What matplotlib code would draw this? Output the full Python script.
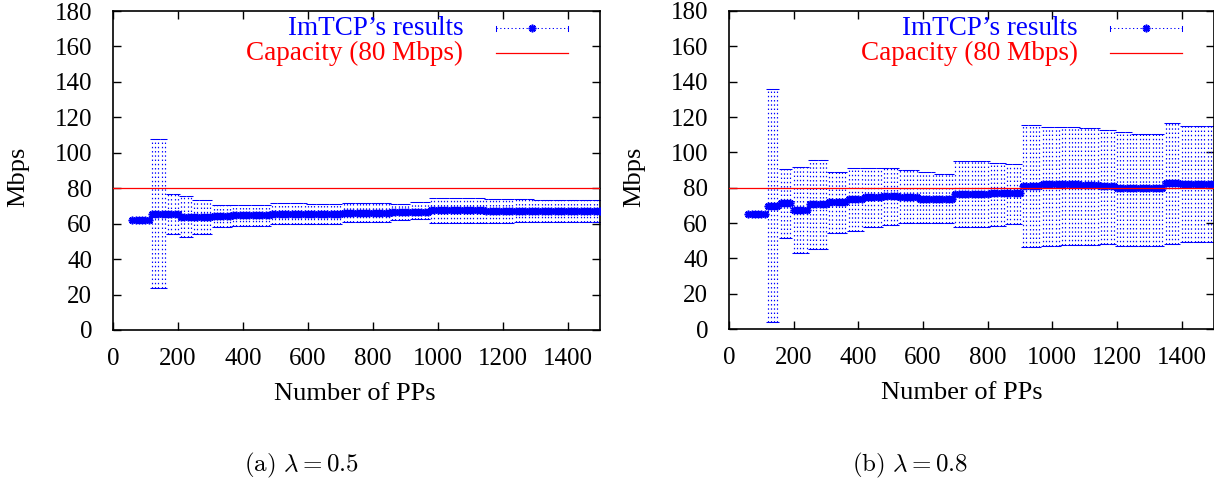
import numpy as np
import matplotlib
matplotlib.use("Agg")
import matplotlib.pyplot as plt

plt.rcParams['font.family'] = ['Liberation Serif', 'DejaVu Serif']
plt.rcParams['mathtext.fontset'] = 'cm'

STEP = 10  # PPs between measurement points

# lambda = 0.5 : segments of equal results (start, end exclusive)
left_start = [60, 120, 170, 210, 250, 310, 370, 490, 600, 710, 860, 920, 980, 1150, 1240, 1300]
left_end = [120, 170, 210, 250, 310, 370, 490, 600, 710, 860, 920, 980, 1150, 1240, 1300, 1510]
left_mean = [62.1, 65.5, 65.5, 63.9, 63.9, 64.2, 64.7, 65.3, 65.6, 66.0, 66.5, 66.8, 67.6, 67.4, 67.3, 67.1]
left_lo = [61.4, 23.5, 54.0, 52.5, 54.3, 58.0, 58.7, 59.6, 60.0, 61.1, 62.1, 62.6, 60.2, 60.2, 61.1, 61.1]
left_hi = [62.8, 107.6, 77.0, 75.8, 73.4, 70.7, 70.3, 71.7, 71.3, 71.5, 70.9, 72.4, 74.7, 73.8, 73.8, 73.1]

# lambda = 0.8
right_start = [60, 120, 160, 200, 250, 310, 370, 420, 480, 530, 590, 640, 700, 810, 860,
               910, 970, 1030, 1090, 1150, 1200, 1250, 1350, 1400]
right_end = [120, 160, 200, 250, 310, 370, 420, 480, 530, 590, 640, 700, 810, 860, 910,
             970, 1030, 1090, 1150, 1200, 1250, 1350, 1400, 1510]
right_mean = [64.9, 69.8, 71.5, 67.3, 70.7, 71.7, 73.6, 74.6, 75.3, 74.9, 73.7, 73.6, 76.3, 76.8, 76.8,
              80.9, 81.9, 82.0, 81.5, 80.9, 79.6, 80.0, 82.5, 82.0]
right_lo = [64.3, 3.8, 51.3, 43.2, 45.1, 54.2, 55.6, 57.5, 58.9, 59.8, 59.8, 59.8, 57.9, 58.3, 59.4,
            46.2, 47.0, 47.5, 47.5, 48.1, 47.0, 47.0, 48.0, 49.4]
right_hi = [65.5, 135.8, 90.5, 91.5, 95.6, 89.0, 91.3, 91.3, 90.9, 90.0, 88.6, 87.7, 94.9, 93.8, 93.2,
            115.4, 114.5, 114.5, 113.6, 112.6, 111.7, 110.4, 116.4, 115.0]

capacity = 80
captions = [r'$\mathrm{(a)}\ \lambda = 0.5$', r'$\mathrm{(b)}\ \lambda = 0.8$']

BLUE = '#0000ff'
RED = '#ff0000'
DOTS = (0, (1.2, 2.4))
STAR = (8, 2, 0)


def expand(start, end, mean, lo, hi):
    xs, ms, ls, hs = [], [], [], []
    for s, e, m, l, h in zip(start, end, mean, lo, hi):
        pts = np.arange(s, e, STEP)
        xs.append(pts)
        ms.append(np.full(len(pts), m))
        ls.append(np.full(len(pts), l))
        hs.append(np.full(len(pts), h))
    return [np.concatenate(a) for a in (xs, ms, ls, hs)]


fig = plt.figure(figsize=(12.14, 4.87), dpi=100)
ax1 = fig.add_axes([113 / 1214, 157 / 487, 487 / 1214, 319 / 487])
ax2 = fig.add_axes([729 / 1214, 158 / 487, 485 / 1214, 318 / 487])

panels = [
    (ax1, left_start, left_end, left_mean, left_lo, left_hi, 0.497),
    (ax2, right_start, right_end, right_mean, right_lo, right_hi, 0.48),
]

for ax, st, en, me, lo, hi, xl in panels:
    x, m, l, h = expand(st, en, me, lo, hi)
    eb = ax.errorbar(x, m, yerr=[m - l, h - m], fmt='none', ecolor=BLUE,
                     elinewidth=0.85, capsize=1.3, capthick=0.75, zorder=2)
    eb[2][0].set_linestyle(DOTS)
    ax.plot(x, m, linestyle='none', marker=STAR, markersize=5.5, mew=1.2,
            color=BLUE, zorder=3)
    ax.axhline(capacity, color=RED, lw=0.9, zorder=4)

    ax.set_xlim(0, 1500)
    ax.set_ylim(0, 180)
    ax.set_xticks(np.arange(0, 1401, 200))
    ax.set_yticks(np.arange(0, 181, 20))
    ax.tick_params(direction='in', top=True, right=True, length=6, width=1,
                   labelsize=18)
    ax.tick_params(axis='y', pad=15)
    ax.tick_params(axis='x', pad=13)
    for sp in ax.spines.values():
        sp.set_linewidth(1.2)

    ax.set_xlabel('Number of PPs', fontsize=19, va='center')
    ax.xaxis.set_label_coords(xl, -0.2)
    ax.set_ylabel('Mbps', fontsize=19, va='center', ha='center')
    ax.yaxis.set_label_coords(-0.195, 0.48)

    # key
    ax.text(0.719, 0.946, "ImTCP\u2019s results", color=BLUE, fontsize=19.5,
            ha='right', va='center', transform=ax.transAxes)
    ax.text(0.719, 0.868, 'Capacity (80 Mbps)', color=RED, fontsize=19.5,
            ha='right', va='center', transform=ax.transAxes)
    ax.plot([0.786, 0.934], [0.946, 0.946], color=BLUE, lw=0.75, ls=DOTS,
            transform=ax.transAxes, clip_on=False)
    for kx in (0.786, 0.934):
        ax.plot([kx, kx], [0.938, 0.954], color=BLUE, lw=0.75,
                transform=ax.transAxes, clip_on=False)
    ax.plot([0.86], [0.946], marker=STAR, markersize=5.5, mew=1.2, color=BLUE,
            transform=ax.transAxes, clip_on=False)
    ax.plot([0.786, 0.934], [0.868, 0.868], color=RED, lw=0.9,
            transform=ax.transAxes, clip_on=False)

fig.text(301 / 1214, 1 - 465 / 487, captions[0], fontsize=18, ha='center', va='center')
fig.text(910 / 1214, 1 - 465 / 487, captions[1], fontsize=18, ha='center', va='center')

fig.savefig('out.png', dpi=100)
